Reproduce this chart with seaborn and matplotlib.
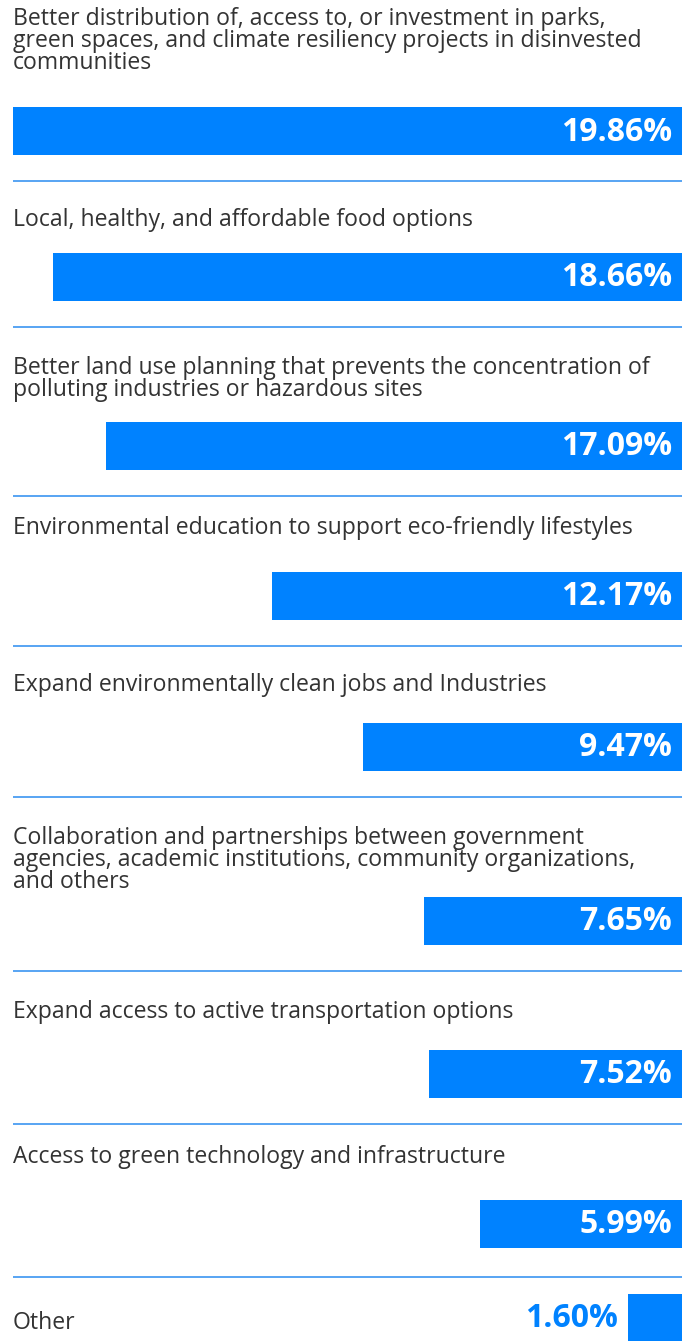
"""
Horizontal right-aligned bar chart of survey priorities
"""
import matplotlib
matplotlib.use('Agg')
import matplotlib.pyplot as plt
import pandas as pd
import seaborn as sns

# data
labels = [
    "Better distribution of, access to, or investment in parks,\ngreen spaces, and climate resiliency projects in disinvested\ncommunities",
    "Local, healthy, and affordable food options",
    "Better land use planning that prevents the concentration of\npolluting industries or hazardous sites",
    "Environmental education to support eco-friendly lifestyles",
    "Expand environmentally clean jobs and Industries",
    "Collaboration and partnerships between government\nagencies, academic institutions, community organizations,\nand others",
    "Expand access to active transportation options",
    "Access to green technology and infrastructure",
    "Other",
]
values = [19.86, 18.66, 17.09, 12.17, 9.47, 7.65, 7.52, 5.99, 1.60]
value_text = [f"{v:.2f}%" for v in values]

# layout (pixels, measured from the top)
W, H = 690, 1341
LEFT, RIGHT = 13, 682
BAR_H = 48
bar_y = [131, 276.5, 445.5, 595.5, 746.5, 920.5, 1073.5, 1223.5, 1317.5]
label_y = [7, 208, 356, 516, 673, 826, 1000, 1145, 1323]
sep_y = [181, 327, 496, 646, 797, 971, 1124, 1277]

BLUE = '#0082FF'
LINE = '#4A9DF2'
TEXT = '#333333'

sns.set_theme(style='white')
plt.rcParams['font.family'] = ['Open Sans', 'DejaVu Sans']

df = pd.DataFrame({'pos': bar_y, 'value': values, 'label': labels})

fig = plt.figure(figsize=(W / 100, H / 100), dpi=100)
ax = fig.add_axes([0, 0, 1, 1])

# x scale: 0% sits at RIGHT, max value reaches LEFT
px_per_unit = (RIGHT - LEFT) / max(values)
x_left = RIGHT / px_per_unit
x_right = -(W - RIGHT) / px_per_unit

min_gap = min(b - a for a, b in zip(bar_y[:-1], bar_y[1:]))
sns.barplot(data=df, x='value', y='pos', orient='h', native_scale=True,
            width=BAR_H / min_gap, color=BLUE, saturation=1,
            linewidth=0, ax=ax)
ax.set_xlim(x_left, x_right)
ax.set_ylim(H, 0)
ax.axis('off')


def px_x(px):
    return x_left - px / px_per_unit


# separators
for y in sep_y:
    ax.plot([px_x(LEFT), px_x(RIGHT)], [y, y], color=LINE, lw=1.3,
            solid_capstyle='butt')

# labels
for lab, ly in zip(labels, label_y):
    va = 'center' if lab == 'Other' else 'top'
    ax.text(px_x(LEFT), ly, lab, ha='left', va=va, fontsize=16.6,
            color=TEXT, linespacing=0.9)

# value labels
for v, t, y in zip(values, value_text, bar_y):
    if v * px_per_unit > 120:
        ax.text(px_x(RIGHT - 10), y + 1, t, ha='right', va='center',
                fontsize=23, fontweight='bold', color='white')
    else:
        ax.text(v + 10 / px_per_unit, y + 1, t, ha='right', va='center',
                fontsize=23, fontweight='bold', color=BLUE)

fig.savefig('out.png', dpi=100)
